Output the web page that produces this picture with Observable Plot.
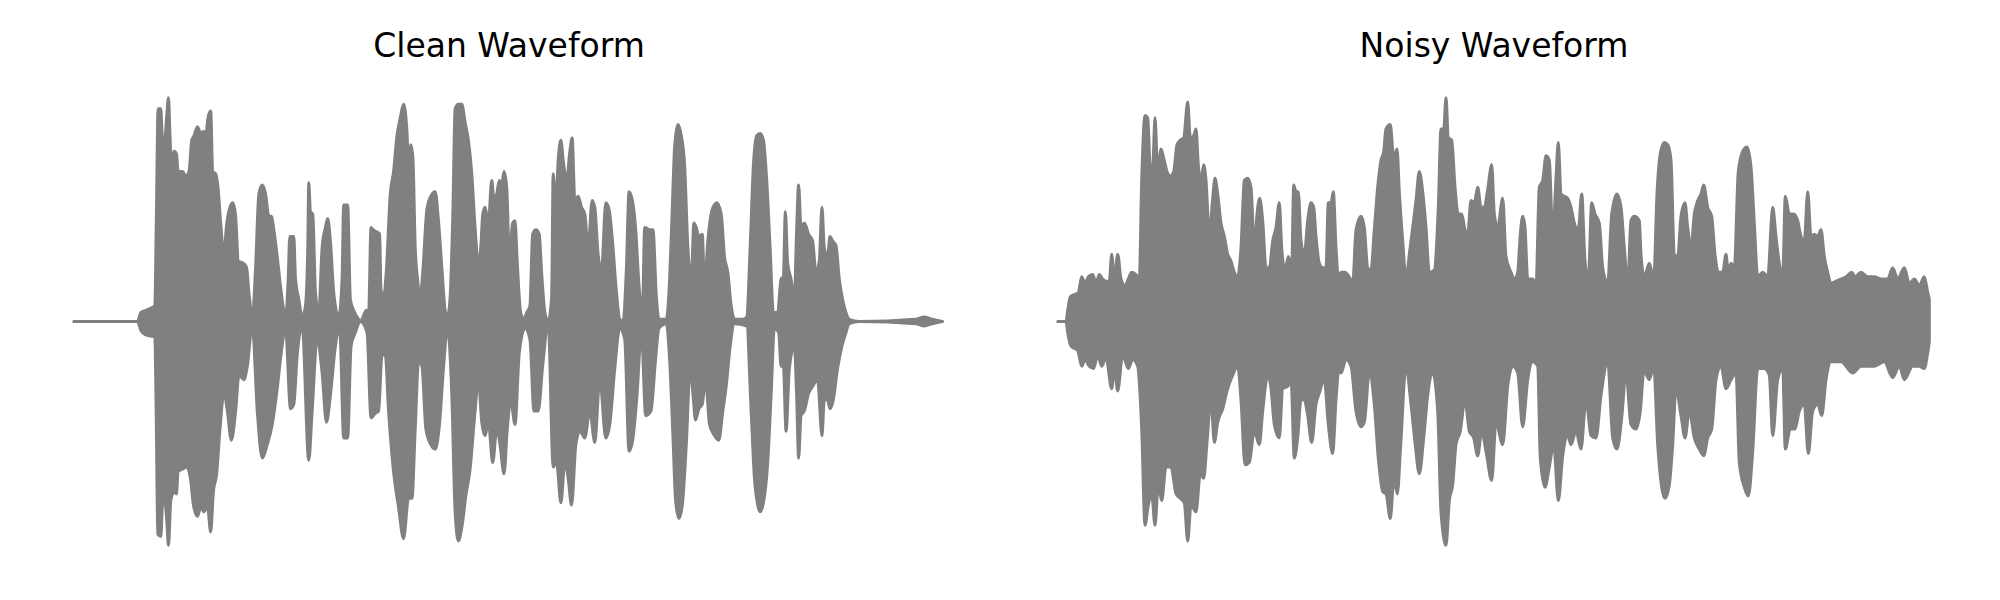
<!DOCTYPE html>
<html><head><meta charset="utf-8">
<script src="https://cdn.jsdelivr.net/npm/d3@7"></script>
<script src="https://cdn.jsdelivr.net/npm/@observablehq/plot@0.6"></script>
<style>body{margin:0;background:#fff}#row{display:flex;width:2000px;height:600px}</style>
</head><body><div id="row"></div>
<script>
const titles = ["Clean Waveform", "Noisy Waveform"];

// [frame, amplitude] envelope readings
const cleanUpper = [[0,0],[63.7,0],[67,0.04],[72,0.05],[77,0.06],[81,0.07],[82.5,0.45],[84.3,0.95],[87,0.95],[88.7,0.81],[91,0.82],[93,0.92],[94.7,1.0],[96.3,0.82],[98,0.67],[100.3,0.76],[102.7,0.75],[104.3,0.67],[108.7,0.67],[112,0.65],[115.3,0.67],[118,0.81],[120.3,0.83],[123.7,0.87],[127,0.84],[129.7,0.85],[132,0.83],[134.3,0.91],[137,0.94],[139,0.67],[142,0.66],[144.3,0.60],[147,0.44],[150.3,0.30],[152.7,0.42],[156.3,0.51],[159.3,0.53],[162,0.47],[164.7,0.27],[169.7,0.26],[173,0.24],[175.3,0.13],[178.7,0.02],[182,0.24],[185.3,0.57],[188.7,0.61],[192,0.57],[195.3,0.47],[197.7,0.47],[200.3,0.41],[203.7,0.29],[207.7,0.13],[212,0.02],[214.7,0.19],[216.3,0.38],[220.3,0.38],[222,0.19],[225.3,0.10],[228.7,0.02],[232,0.07],[234.3,0.33],[235.3,0.62],[237,0.49],[239.3,0.48],[242,0.13],[245.3,0.04],[248.7,0.33],[252,0.42],[254.3,0.46],[257,0.36],[260.3,0.13],[265.3,0.02],[268.7,0.19],[270.3,0.52],[274.3,0.52],[277,0.10],[280.3,0.05],[285.3,0.01],[287,0],[293,0.05],[295.3,0.04],[297.7,0.42],[299.7,0.41],[303.7,0.40],[306.3,0.39],[307.7,0.14],[310.3,0.11],[313,0.22],[317,0.57],[320.3,0.67],[323.7,0.83],[327,0.91],[330.3,0.97],[333.7,0.85],[335.3,0.70],[337.7,0.79],[339.7,0.73],[342,0.33],[344.3,0.19],[347,0.11],[349.7,0.23],[353.7,0.50],[357.7,0.56],[362,0.58],[365.3,0.45],[368.7,0.24],[372,0.05],[374.3,0.02],[377,0.11],[379.7,0.48],[382,0.95],[385.3,0.97],[388.7,0.97],[392,0.89],[395.3,0.81],[398.7,0.66],[402,0.42],[405.3,0.26],[407.7,0.33],[409.7,0.48],[412,0.51],[415.3,0.44],[418.7,0.63],[421,0.54],[423.7,0.57],[426.3,0.63],[428.7,0.61],[431,0.67],[433.7,0.60],[436.3,0.30],[439.7,0.44],[442,0.45],[444.3,0.26],[447.7,0.04],[451,0.01],[453.7,0.04],[457,0.07],[459.7,0.39],[463,0.41],[466.3,0.39],[468.7,0.22],[472,0.04],[475.3,0],[478.7,0.11],[480.3,0.66],[483,0.51],[485.3,0.72],[488,0.81],[490.3,0.72],[493.7,0.63],[497,0.76],[499.3,0.82],[502,0.54],[505.3,0.56],[508.7,0.51],[512,0.48],[515.3,0.33],[519.3,0.54],[522,0.51],[525.3,0.30],[528.7,0.23],[533,0.53],[536.3,0.50],[539.7,0.36],[543.7,0.13],[547,0.01],[550.3,0],[553.7,0.24],[556.3,0.58],[559.7,0.54],[563,0.41],[566.3,0.16],[569.7,0.04],[572,0.42],[577,0.41],[580.3,0.41],[583.7,0.11],[586.3,0.01],[593.7,0.01],[597,0.19],[599.7,0.51],[602,0.78],[605.3,0.88],[608.7,0.83],[612,0.70],[615.3,0.33],[618.7,0.19],[621.3,0.44],[623.7,0.42],[626.3,0.38],[629.7,0.39],[632,0.16],[635.3,0.36],[639.7,0.50],[644.3,0.53],[648.7,0.48],[652,0.29],[655.3,0.22],[658.7,0.07],[662,0.01],[670.3,0.01],[674.3,0.02],[677.7,0.33],[681,0.70],[684.3,0.83],[687.7,0.84],[691,0.81],[694.3,0.63],[697.7,0.33],[701,0.04],[705.3,0.04],[708.7,0.19],[711,0.20],[713,0.49],[715.3,0.26],[718.7,0.19],[722,0.10],[724.3,0.41],[726.3,0.61],[728.7,0.42],[732,0.44],[736.3,0.39],[740.3,0.36],[743.7,0.22],[747,0.27],[749.7,0.51],[752,0.33],[755.3,0.29],[757.7,0.38],[760.3,0.36],[763.7,0.34],[767,0.19],[770.3,0.10],[773.7,0.04],[777,0.01],[787,0],[843.7,0.01],[852,0.02],[860.3,0.01],[870.3,0]];

const cleanLower = [[0,0],[63.7,0],[67,-0.04],[72,-0.06],[77,-0.065],[81,-0.07],[82.5,-0.45],[84,-0.95],[87,-0.96],[88.7,-0.82],[91,-0.80],[93,-0.89],[94.7,-1.0],[97,-0.80],[100.3,-0.76],[102.7,-0.77],[104.3,-0.67],[108.7,-0.66],[113,-0.65],[117,-0.71],[119.7,-0.82],[123.7,-0.87],[127,-0.83],[130.3,-0.85],[133.7,-0.82],[137,-0.94],[139.7,-0.76],[143,-0.68],[146.3,-0.48],[150.3,-0.32],[153.7,-0.40],[157.7,-0.53],[162,-0.40],[165.3,-0.24],[170.3,-0.26],[173.7,-0.20],[178.7,-0.02],[183.7,-0.40],[188.7,-0.61],[193.7,-0.55],[198.7,-0.46],[203.7,-0.30],[207.7,-0.14],[212,-0.03],[217,-0.39],[220.3,-0.37],[223.7,-0.15],[228.7,-0.02],[235.3,-0.62],[238.7,-0.40],[243.7,-0.08],[248.7,-0.23],[253,-0.45],[257,-0.33],[262,-0.11],[266.3,-0.03],[270.3,-0.52],[274.3,-0.52],[277.7,-0.11],[282,-0.05],[287,0],[293.7,-0.05],[297.7,-0.43],[302,-0.41],[305.3,-0.40],[308.7,-0.15],[312,-0.15],[315.3,-0.40],[320.3,-0.67],[325.3,-0.83],[330.3,-0.97],[335.3,-0.79],[338.7,-0.79],[342,-0.48],[345.3,-0.18],[348.7,-0.20],[352.7,-0.48],[357.7,-0.55],[362,-0.57],[366.3,-0.46],[370.3,-0.21],[374.3,-0.03],[378.7,-0.33],[382,-0.85],[385.3,-0.98],[388.7,-0.92],[393,-0.77],[396.7,-0.67],[402,-0.40],[405.3,-0.26],[408.7,-0.45],[412,-0.51],[415.3,-0.45],[419.7,-0.63],[423.7,-0.48],[427,-0.55],[431,-0.68],[434.3,-0.48],[437.7,-0.35],[442,-0.46],[446.3,-0.14],[452,-0.03],[457,-0.08],[461,-0.40],[465.3,-0.40],[469.7,-0.20],[475.3,-0.01],[480.3,-0.65],[483.7,-0.63],[488,-0.81],[492,-0.63],[495.3,-0.70],[498.7,-0.82],[503,-0.55],[507,-0.49],[512,-0.52],[517,-0.40],[522,-0.54],[527,-0.26],[533,-0.52],[537,-0.46],[542,-0.21],[547,-0.03],[552,-0.08],[556.3,-0.58],[560.3,-0.52],[564.3,-0.33],[568.7,-0.05],[573,-0.42],[578.3,-0.40],[582.7,-0.18],[586.3,-0.03],[593.7,-0.01],[597,-0.17],[600.3,-0.51],[603,-0.80],[606.3,-0.88],[609.7,-0.82],[613.7,-0.55],[617.7,-0.20],[620.3,-0.32],[623,-0.44],[626.3,-0.39],[629.7,-0.37],[633,-0.26],[637,-0.46],[642,-0.51],[646.3,-0.53],[650.3,-0.40],[653.7,-0.29],[657.7,-0.11],[662,-0.01],[674.3,-0.02],[678.7,-0.40],[682,-0.70],[685.3,-0.82],[687.7,-0.85],[691,-0.81],[695.3,-0.63],[698.7,-0.33],[702,-0.03],[706.3,-0.05],[708.7,-0.20],[711,-0.20],[713.7,-0.49],[717,-0.21],[722,-0.11],[724.3,-0.33],[726.3,-0.61],[728.7,-0.42],[732,-0.40],[736.3,-0.32],[740.3,-0.29],[745.3,-0.26],[749.7,-0.51],[752,-0.35],[755.3,-0.35],[757.7,-0.39],[761,-0.35],[765.3,-0.21],[769.7,-0.11],[773.7,-0.05],[777,-0.01],[787,0],[843.7,-0.01],[852,-0.02],[860.3,-0.01],[870.3,0]];

const noisyUpper = [[0,0],[8,0],[9.7,0.05],[12.3,0.11],[16.3,0.12],[20.3,0.13],[23.7,0.20],[27,0.17],[30.3,0.20],[34.7,0.21],[38,0.17],[41.3,0.21],[44.7,0.19],[48,0.18],[51.3,0.18],[53.7,0.30],[56.3,0.19],[59.7,0.30],[63,0.19],[67,0.16],[70.3,0.19],[73.7,0.22],[78,0.21],[81.3,0.19],[83.7,0.63],[87,0.92],[89.7,0.91],[92.3,0.69],[94.7,0.69],[97,0.91],[99.7,0.67],[103,0.77],[105.7,0.73],[109,0.67],[112.3,0.65],[115.7,0.67],[119,0.79],[122.3,0.81],[125.7,0.82],[129.7,0.98],[132.3,0.82],[135.7,0.83],[138,0.86],[140.3,0.70],[143,0.63],[145.7,0.70],[148,0.63],[151.3,0.39],[154.7,0.55],[157,0.64],[159.7,0.57],[163,0.44],[166.3,0.38],[169.7,0.30],[173,0.27],[176.3,0.22],[179.7,0.20],[183,0.33],[186.3,0.63],[189.7,0.64],[193,0.60],[196.3,0.33],[199,0.48],[201.7,0.55],[204.7,0.45],[208,0.24],[211.3,0.24],[214.7,0.36],[218,0.42],[221.3,0.53],[223.7,0.33],[227,0.23],[230.3,0.29],[233.7,0.24],[235.7,0.61],[238,0.58],[240.3,0.58],[243,0.36],[246.3,0.30],[249.7,0.45],[253,0.53],[255.7,0.51],[258,0.38],[261.3,0.26],[264.7,0.24],[268,0.24],[270.3,0.53],[273,0.53],[275.3,0.58],[278,0.33],[280.3,0.20],[283,0.22],[286.3,0.22],[291.3,0.20],[294.7,0.17],[298,0.41],[303,0.47],[306.3,0.42],[309.7,0.24],[313,0.23],[316.3,0.41],[319.7,0.60],[323,0.72],[325.7,0.76],[328,0.86],[332.3,0.88],[335.7,0.73],[339,0.77],[341.3,0.58],[344.7,0.36],[348,0.19],[351.3,0.30],[354.7,0.42],[358,0.54],[361.3,0.67],[364.7,0.58],[368,0.42],[371.3,0.22],[376.3,0.23],[380.3,0.51],[383,0.86],[385.7,0.86],[388,1.0],[390.3,0.82],[393.7,0.81],[397,0.60],[400.3,0.48],[403.7,0.48],[407,0.41],[409.7,0.39],[413,0.54],[416.3,0.53],[419.7,0.60],[423,0.51],[426.3,0.51],[429.7,0.59],[433.7,0.70],[436.3,0.48],[439.7,0.42],[444.7,0.55],[448,0.29],[453,0.22],[456.3,0.19],[459.7,0.22],[462.3,0.39],[464.7,0.47],[467,0.42],[469.7,0.19],[474.7,0.19],[478,0.16],[481.3,0.60],[484.7,0.63],[488,0.74],[491.3,0.72],[494.7,0.39],[498,0.64],[500.3,0.80],[503,0.57],[506.3,0.56],[509.7,0.55],[513,0.51],[516.3,0.44],[520.3,0.41],[523.7,0.57],[527,0.27],[530.3,0.19],[533.7,0.53],[537,0.48],[541.3,0.44],[544.7,0.24],[549.7,0.17],[553.7,0.48],[559,0.57],[563,0.51],[566.3,0.33],[569.7,0.17],[573,0.45],[576.3,0.47],[581.3,0.45],[583,0.30],[586.3,0.20],[591.3,0.26],[595.7,0.19],[599,0.57],[602.3,0.75],[606.3,0.80],[609.7,0.79],[613,0.72],[616.3,0.30],[619.7,0.29],[623,0.47],[627,0.53],[629.7,0.42],[633,0.33],[636.3,0.48],[639.7,0.54],[643,0.57],[645.7,0.61],[649.7,0.51],[653.7,0.47],[657,0.30],[660.3,0.22],[664.7,0.22],[668,0.30],[670.3,0.22],[673,0.26],[676.3,0.24],[680.3,0.67],[684.7,0.76],[689,0.78],[693,0.69],[696.3,0.44],[699.7,0.20],[704.7,0.22],[709.7,0.20],[714.7,0.51],[718,0.38],[721.3,0.26],[724.7,0.20],[727.3,0.56],[731.3,0.48],[735.7,0.48],[739.7,0.45],[743,0.38],[746.3,0.36],[749.7,0.58],[753,0.38],[756.3,0.39],[759.7,0.38],[763,0.41],[766.3,0.29],[769.7,0.22],[773,0.17],[778,0.18],[783,0.19],[788,0.20],[793.7,0.22],[797,0.20],[803,0.22],[809.7,0.20],[816.3,0.20],[823,0.19],[829.7,0.19],[834.7,0.24],[839.7,0.19],[846.3,0.24],[851.3,0.17],[856.3,0.19],[861.3,0.16],[866.3,0.20],[869.7,0.13],[871.3,0.10]];

const noisyLower = [[0,0],[8,0],[9.7,-0.05],[13,-0.11],[16.3,-0.12],[19.7,-0.13],[23.7,-0.20],[27,-0.17],[31.3,-0.20],[35.7,-0.21],[39.7,-0.15],[43.7,-0.20],[48,-0.16],[53.7,-0.30],[56.3,-0.21],[59.7,-0.31],[64.7,-0.15],[70.3,-0.21],[74.7,-0.17],[79.7,-0.20],[83.7,-0.48],[87,-0.91],[90.3,-0.82],[93.7,-0.77],[97,-0.91],[100.3,-0.73],[103.7,-0.80],[108,-0.65],[113,-0.65],[118,-0.77],[122.3,-0.79],[126.3,-0.81],[129.7,-0.98],[133,-0.82],[138,-0.85],[142.3,-0.68],[145.7,-0.70],[149,-0.54],[153,-0.35],[156.3,-0.54],[159.7,-0.45],[164.7,-0.39],[169.7,-0.30],[174.7,-0.24],[179.7,-0.20],[183,-0.35],[187,-0.64],[191.3,-0.63],[196.3,-0.49],[201.3,-0.55],[204.7,-0.40],[209.7,-0.24],[213,-0.30],[216.3,-0.46],[221.3,-0.52],[224.7,-0.30],[229.7,-0.29],[233,-0.26],[236.3,-0.61],[239.7,-0.52],[243,-0.35],[246.3,-0.35],[249.7,-0.42],[253.7,-0.54],[258,-0.37],[261.3,-0.32],[266.3,-0.26],[270.3,-0.46],[274.7,-0.59],[278,-0.35],[281.3,-0.20],[283,-0.23],[288,-0.17],[293,-0.20],[298,-0.40],[303,-0.47],[306.3,-0.45],[311.3,-0.23],[316.3,-0.37],[320.3,-0.61],[324.7,-0.76],[328,-0.77],[332.3,-0.88],[336,-0.70],[339.3,-0.77],[342.7,-0.55],[348,-0.20],[353,-0.37],[357,-0.54],[361.3,-0.68],[365.7,-0.52],[369.7,-0.33],[374.7,-0.23],[379.7,-0.40],[383,-0.85],[388,-1.0],[391.3,-0.80],[394.7,-0.73],[398,-0.55],[402.3,-0.49],[407,-0.35],[411.3,-0.49],[415.7,-0.52],[419.7,-0.60],[423.7,-0.49],[428,-0.58],[433.7,-0.71],[438,-0.45],[444.7,-0.55],[449.7,-0.29],[454.7,-0.20],[459.7,-0.23],[464.7,-0.47],[469.7,-0.26],[474.7,-0.18],[479.7,-0.20],[482.3,-0.61],[487,-0.74],[491.3,-0.65],[495.7,-0.55],[500.3,-0.80],[504.7,-0.60],[509.7,-0.51],[513,-0.55],[518,-0.49],[523,-0.57],[528,-0.35],[533,-0.51],[538,-0.52],[543,-0.33],[549.7,-0.18],[554.7,-0.52],[559,-0.57],[563.7,-0.43],[568,-0.23],[573,-0.46],[578,-0.48],[582.3,-0.40],[586,-0.22],[591.3,-0.26],[595.7,-0.20],[599.7,-0.55],[603.7,-0.74],[607,-0.79],[611.3,-0.73],[614.7,-0.55],[618,-0.30],[623,-0.42],[627,-0.52],[631.3,-0.40],[636.3,-0.52],[641.3,-0.57],[645.7,-0.60],[649.7,-0.52],[653.7,-0.48],[658,-0.26],[663,-0.20],[668,-0.30],[673,-0.26],[678,-0.23],[681.3,-0.63],[686.3,-0.74],[690.3,-0.78],[694.7,-0.58],[699.7,-0.21],[706.3,-0.21],[711.3,-0.24],[714.7,-0.51],[719.7,-0.26],[724.7,-0.21],[727.3,-0.57],[732.3,-0.48],[737,-0.48],[741.3,-0.40],[746.3,-0.37],[750.3,-0.59],[754.7,-0.40],[759.7,-0.37],[763.7,-0.42],[768,-0.26],[773,-0.18],[783,-0.18],[794.7,-0.23],[803,-0.20],[816.3,-0.20],[826.3,-0.18],[834.7,-0.25],[841.3,-0.20],[846.3,-0.26],[854.7,-0.20],[861.3,-0.20],[866.3,-0.21],[869.7,-0.14],[871.3,-0.09]];

const GRAY = "#808080";

function edge(data) {
  return Plot.areaY(data, {
    x: d => d[0], y1: () => 0, y2: d => d[1], curve: "monotone-x",
    fill: GRAY, stroke: GRAY, strokeWidth: 3, strokeLinejoin: "round"
  });
}

function panel(title, upper, lower, ml, mr) {
  return Plot.plot({
    width: 1000, height: 600,
    marginLeft: ml, marginRight: mr, marginTop: 73, marginBottom: 30,
    x: {domain: [0, 871], axis: null},
    y: {domain: [-1.11, 1.11], axis: null},
    style: {fontFamily: "DejaVu Sans", background: "white"},
    marks: [
      edge(upper),
      edge(lower),
      Plot.text([title], {text: d => d, frameAnchor: "top", lineAnchor: "bottom", dy: -17, fontSize: 33, fill: "black"})
    ]
  });
}

const row = document.getElementById("row");
row.appendChild(panel(titles[0], cleanUpper, cleanLower, 74, 57));
row.appendChild(panel(titles[1], noisyUpper, noisyLower, 58, 71));
</script>
</body></html>
